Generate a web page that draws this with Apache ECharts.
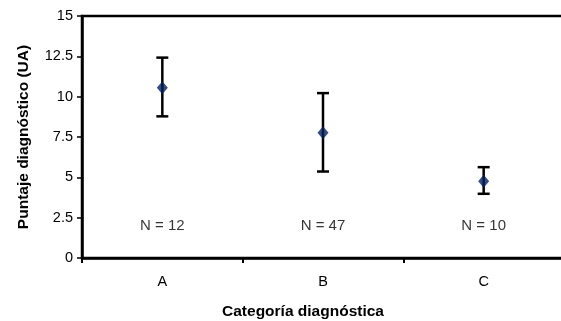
<!DOCTYPE html>
<html><head><meta charset="utf-8">
<script src="https://cdn.jsdelivr.net/npm/echarts@6/dist/echarts.min.js"></script>
<style>html,body{margin:0;padding:0;background:#fff}#c{width:561px;height:321px}</style>
</head><body><div id="c"></div>
<script>
const categories = ['A', 'B', 'C'];
const means = [10.55, 7.77, 4.76];
const upper = [12.42, 10.22, 5.63];
const lower = [8.78, 5.36, 3.98];
const nLabels = ['N = 12', 'N = 47', 'N = 10'];
const nLabelY = [2.0, 2.0, 2.0];
const yTicks = [0, 2.5, 5, 7.5, 10, 12.5, 15];

const FONT = '"Liberation Sans", Arial, sans-serif';
const chart = echarts.init(document.getElementById('c'));
chart.setOption({
  animation: false,
  grid: { left: 82, top: 16, width: 482, height: 242, show: true, borderColor: '#000', borderWidth: 2.5,
    backgroundColor: 'transparent', outerBoundsMode: 'none', containLabel: false },
  xAxis: {
    type: 'category', data: categories, boundaryGap: true,
    axisLine: { lineStyle: { color: '#000', width: 2.5 } },
    axisTick: { show: true, length: 5, lineStyle: { color: '#000', width: 2 } },
    axisLabel: { color: '#000', fontFamily: FONT, fontSize: 14.5, margin: 16 },
    name: 'Categoría diagnóstica', nameLocation: 'middle', nameGap: 46,
    nameTextStyle: { color: '#000', fontFamily: FONT, fontSize: 15.5, fontWeight: 'bold', padding: [0, 40, 0, 0] }
  },
  yAxis: {
    type: 'value', min: 0, max: 15, interval: 2.5,
    axisLine: { show: true, lineStyle: { color: '#000', width: 2.5 } },
    axisTick: { show: true, length: 5, lineStyle: { color: '#000', width: 1.5 } },
    splitLine: { show: false },
    axisLabel: { color: '#000', fontFamily: FONT, fontSize: 14.5, margin: 9,
      formatter: v => yTicks.includes(v) ? String(v) : '' },
    name: 'Puntaje diagnóstico (UA)', nameLocation: 'middle', nameGap: 50,
    nameTextStyle: { color: '#000', fontFamily: FONT, fontSize: 15.5, fontWeight: 'bold' }
  },
  series: [
    {
      type: 'custom',
      data: categories.map((c, i) => [i, lower[i], upper[i]]),
      renderItem: function (params, api) {
        const x = api.value(0);
        const lo = api.coord([x, api.value(1)]);
        const hi = api.coord([x, api.value(2)]);
        const hw = 6;
        const style = { stroke: '#000', lineWidth: 2.5 };
        return {
          type: 'group',
          children: [
            { type: 'line', shape: { x1: hi[0], y1: hi[1], x2: lo[0], y2: lo[1] }, style },
            { type: 'line', shape: { x1: hi[0] - hw, y1: hi[1], x2: hi[0] + hw, y2: hi[1] }, style },
            { type: 'line', shape: { x1: lo[0] - hw, y1: lo[1], x2: lo[0] + hw, y2: lo[1] }, style }
          ]
        };
      },
      z: 2
    },
    {
      type: 'scatter', data: means, symbol: 'diamond', symbolSize: [11, 13],
      itemStyle: { color: '#06205f' }, z: 3
    },
    {
      type: 'scatter', data: nLabelY, symbolSize: 0,
      label: { show: true, position: 'inside', color: '#000', fontFamily: FONT, fontSize: 15,
        formatter: p => nLabels[p.dataIndex] },
      silent: true
    }
  ]
});
</script></body></html>
